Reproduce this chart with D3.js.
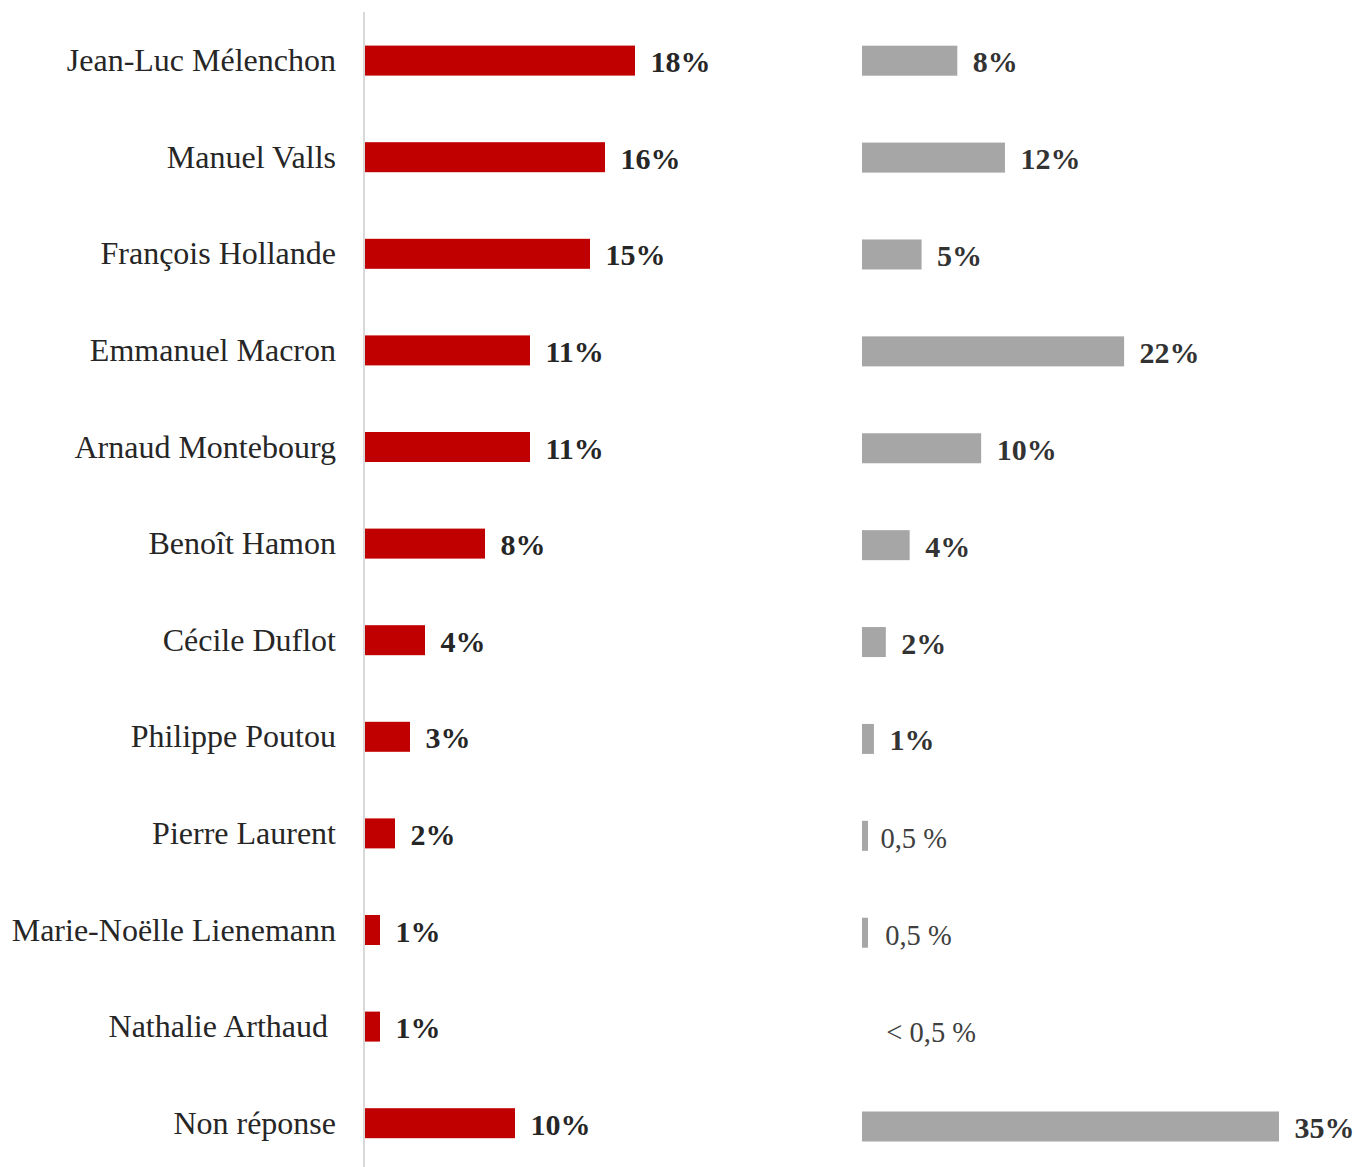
<!DOCTYPE html>
<html>
<head>
<meta charset="utf-8">
<script src="https://cdn.jsdelivr.net/npm/d3@7"></script>
<style>
  html, body { margin: 0; padding: 0; background: #fff; }
  text { white-space: pre; }
</style>
</head>
<body>
<svg id="chart" width="1354" height="1167"></svg>
<script>
const categories = ["Jean-Luc Mélenchon", "Manuel Valls", "François Hollande", "Emmanuel Macron",
  "Arnaud Montebourg", "Benoît Hamon", "Cécile Duflot", "Philippe Poutou", "Pierre Laurent",
  "Marie-Noëlle Lienemann", "Nathalie Arthaud\u00a0", "Non réponse"];
const redValues = [18, 16, 15, 11, 11, 8, 4, 3, 2, 1, 1, 10];
const redLabels = ["18%", "16%", "15%", "11%", "11%", "8%", "4%", "3%", "2%", "1%", "1%", "10%"];
const greyValues = [8, 12, 5, 22, 10, 4, 2, 1, 0.5, 0.5, 0, 35];
const greyLabels = ["8%", "12%", "5%", "22%", "10%", "4%", "2%", "1%", "0,5 %", "\u20060,5 %", " \u2006< 0,5 %", "35%"];
const greyLabelBold = [true, true, true, true, true, true, true, true, false, false, false, true];

const svg = d3.select("#chart");
const font = "'Liberation Serif', 'Times New Roman', serif";

const barH = 30;
// Red (left) panel
const yRed = d3.scalePoint().domain(categories).range([60.6, 1123.2]);
const xRed = d3.scaleLinear().domain([0, 18]).range([365, 635]);
// Grey (right) panel
const yGrey = d3.scalePoint().domain(categories).range([60.7, 1126.5]);
const xGrey = d3.scaleLinear().domain([0, 35]).range([862, 1279]);

// axis line
svg.append("line")
  .attr("x1", 364).attr("x2", 364).attr("y1", 12).attr("y2", 1167)
  .attr("stroke", "#d9d9d9").attr("stroke-width", 2);

// category labels
svg.append("g").selectAll("text").data(categories).join("text")
  .attr("x", 336)
  .attr("y", d => yRed(d) + 10.5)
  .attr("text-anchor", "end")
  .attr("font-family", font)
  .attr("font-size", 32)
  .attr("fill", "#262626")
  .text(d => d);

// red bars
svg.append("g").selectAll("rect").data(categories).join("rect")
  .attr("x", xRed(0))
  .attr("y", d => yRed(d) - barH / 2)
  .attr("width", (d, i) => xRed(redValues[i]) - xRed(0))
  .attr("height", barH)
  .attr("fill", "#c00000");

svg.append("g").selectAll("text").data(categories).join("text")
  .attr("x", (d, i) => xRed(redValues[i]) + 15.5)
  .attr("y", d => yRed(d) + 11.5)
  .attr("font-family", font)
  .attr("font-size", 30)
  .attr("font-weight", "bold")
  .attr("fill", "#262626")
  .text((d, i) => redLabels[i]);

// grey bars
svg.append("g").selectAll("rect").data(categories).join("rect")
  .attr("x", xGrey(0))
  .attr("y", d => yGrey(d) - barH / 2)
  .attr("width", (d, i) => xGrey(greyValues[i]) - xGrey(0))
  .attr("height", barH)
  .attr("fill", "#a6a6a6");

svg.append("g").selectAll("text").data(categories).join("text")
  .attr("x", (d, i) => xGrey(greyValues[i]) + (greyLabelBold[i] ? 15.5 : 12.5))
  .attr("y", (d, i) => yGrey(d) + (greyLabelBold[i] ? 11.5 : 12))
  .attr("font-family", font)
  .attr("font-size", (d, i) => greyLabelBold[i] ? 30 : 28.5)
  .attr("font-weight", (d, i) => greyLabelBold[i] ? "bold" : "normal")
  .attr("fill", (d, i) => greyLabelBold[i] ? "#333333" : "#404040")
  .text((d, i) => greyLabels[i]);
</script>
</body>
</html>
